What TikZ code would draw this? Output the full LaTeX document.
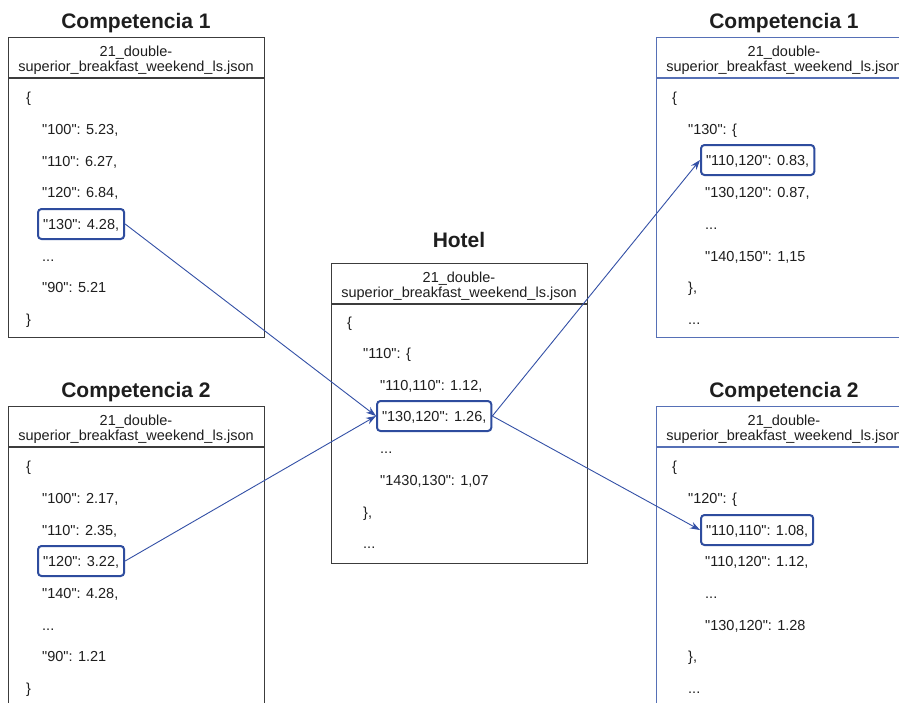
\documentclass[tikz,border=0pt]{standalone}
\usepackage{fontspec}
\setmainfont{Liberation Sans}[Ligatures=TeXOff]
\usetikzlibrary{arrows.meta}
\definecolor{txtc}{HTML}{1E1E1E}
\definecolor{boxc}{HTML}{3C3C3C}
\definecolor{rbc}{HTML}{5670B6}
\definecolor{hlc}{HTML}{2E4C9E}
\definecolor{arrc}{HTML}{3350A6}
\tikzset{
  ttl/.style={font=\fontsize{21}{24}\selectfont\bfseries, anchor=base, inner sep=0, text=txtc},
  hdr/.style={font=\fontsize{14.5}{17}\selectfont, anchor=base, inner sep=0, text=txtc},
  ln/.style={font=\fontsize{14.5}{17}\selectfont, anchor=base west, inner sep=0, text=txtc},
  hl/.style={ln, draw=hlc, line width=2pt, rounded corners=3.5pt, inner xsep=5pt, inner ysep=0pt, text height=20pt, text depth=10pt},
  jbox/.style={draw=boxc, line width=1.1pt, minimum width=256pt, anchor=north west, inner sep=0},
  rbox/.style={jbox, draw=rbc},
  arr/.style={draw=arrc, line width=0.9pt, -{Stealth[length=10pt,width=7pt]}}
}
\begin{document}
\begin{tikzpicture}[x=1pt,y=-1pt]
\useasboundingbox (0,0) rectangle (899,702);
\clip (0,0) rectangle (899,702);
\fill[white] (0,0) rectangle (899,702);

% ---------- Top-left: Competencia 1
\node[ttl] (t1) at (136,28) {Competencia 1};
\node[jbox, minimum height=300pt] (b1) at (8,37) {};
\draw[boxc, line width=1.1pt] ([yshift=-41pt]b1.north west) -- ([yshift=-41pt]b1.north east);
\node[hdr] (h1a) at (136,56) {21\_double-};
\node[hdr] (h1b) at (136,71) {superior\_breakfast\_weekend\_ls.json};
\node[ln] (l1a) at (26,102) {\{};
\node[ln] (l1b) at (42,134) {"100": 5.23,};
\node[ln] (l1c) at (42,166) {"110": 6.27,};
\node[ln] (l1d) at (42,197) {"120": 6.84,};
\node[hl] (s1) at (37,229) {"130": 4.28,\hspace{7pt}};
\node[ln] (l1f) at (42,261) {...};
\node[ln] (l1g) at (42,292) {"90": 5.21};
\node[ln] (l1h) at (26,324) {\}};

% ---------- Bottom-left: Competencia 2
\node[ttl] (t2) at (136,397) {Competencia 2};
\node[jbox, minimum height=330pt] (b2) at (8,406) {};
\draw[boxc, line width=1.1pt] ([yshift=-41pt]b2.north west) -- ([yshift=-41pt]b2.north east);
\node[hdr] (h2a) at (136,425) {21\_double-};
\node[hdr] (h2b) at (136,440) {superior\_breakfast\_weekend\_ls.json};
\node[ln] (l2a) at (26,471) {\{};
\node[ln] (l2b) at (42,503) {"100": 2.17,};
\node[ln] (l2c) at (42,535) {"110": 2.35,};
\node[hl] (s2) at (37,566) {"120": 3.22,\hspace{7pt}};
\node[ln] (l2e) at (42,598) {"140": 4.28,};
\node[ln] (l2f) at (42,630) {...};
\node[ln] (l2g) at (42,661) {"90": 1.21};
\node[ln] (l2h) at (26,693) {\}};

% ---------- Middle: Hotel
\node[ttl] (th) at (459,247) {Hotel};
\node[jbox, minimum height=300pt] (bh) at (331,263) {};
\draw[boxc, line width=1.1pt] ([yshift=-41pt]bh.north west) -- ([yshift=-41pt]bh.north east);
\node[hdr] (hha) at (459,282) {21\_double-};
\node[hdr] (hhb) at (459,297) {superior\_breakfast\_weekend\_ls.json};
\node[ln] (lha) at (347,327) {\{};
\node[ln] (lhb) at (363,358) {"110": \{};
\node[ln] (lhc) at (380,390) {"110,110": 1.12,};
\node[hl] (sh) at (376,421) {"130,120": 1.26,\hspace{6pt}};
\node[ln] (lhe) at (380,453) {...};
\node[ln] (lhf) at (380,485) {"1430,130": 1,07};
\node[ln] (lhg) at (363,517) {\},};
\node[ln] (lhh) at (363,548) {...};

% ---------- Top-right: Competencia 1
\node[ttl] (t3) at (784,28) {Competencia 1};
\node[rbox, minimum height=300pt] (b3) at (656,37) {};
\draw[rbc, line width=1.1pt] ([yshift=-41pt]b3.north west) -- ([yshift=-41pt]b3.north east);
\node[hdr] (h3a) at (784,56) {21\_double-};
\node[hdr] (h3b) at (784,71) {superior\_breakfast\_weekend\_ls.json};
\node[ln] (l3a) at (672,102) {\{};
\node[ln] (l3b) at (688,134) {"130": \{};
\node[hl] (s3) at (700,165) {"110,120": 0.83,\hspace{6pt}};
\node[ln] (l3d) at (705,197) {"130,120": 0.87,};
\node[ln] (l3e) at (705,229) {...};
\node[ln] (l3f) at (705,261) {"140,150": 1,15};
\node[ln] (l3g) at (688,292) {\},};
\node[ln] (l3h) at (688,324) {...};

% ---------- Bottom-right: Competencia 2
\node[ttl] (t4) at (784,397) {Competencia 2};
\node[rbox, minimum height=330pt] (b4) at (656,406) {};
\draw[rbc, line width=1.1pt] ([yshift=-41pt]b4.north west) -- ([yshift=-41pt]b4.north east);
\node[hdr] (h4a) at (784,425) {21\_double-};
\node[hdr] (h4b) at (784,440) {superior\_breakfast\_weekend\_ls.json};
\node[ln] (l4a) at (672,471) {\{};
\node[ln] (l4b) at (688,503) {"120": \{};
\node[hl] (s4) at (700,535) {"110,110": 1.08,\hspace{6pt}};
\node[ln] (l4d) at (705,566) {"110,120": 1.12,};
\node[ln] (l4e) at (705,598) {...};
\node[ln] (l4f) at (705,630) {"130,120": 1.28};
\node[ln] (l4g) at (688,661) {\},};
\node[ln] (l4h) at (688,693) {...};

% ---------- Connectors
\draw[arr] (s1.east) -- (sh.west);
\draw[arr] (s2.east) -- (sh.west);
\draw[arr] (sh.east) -- (s3.west);
\draw[arr] (sh.east) -- (s4.west);
\end{tikzpicture}
\end{document}
